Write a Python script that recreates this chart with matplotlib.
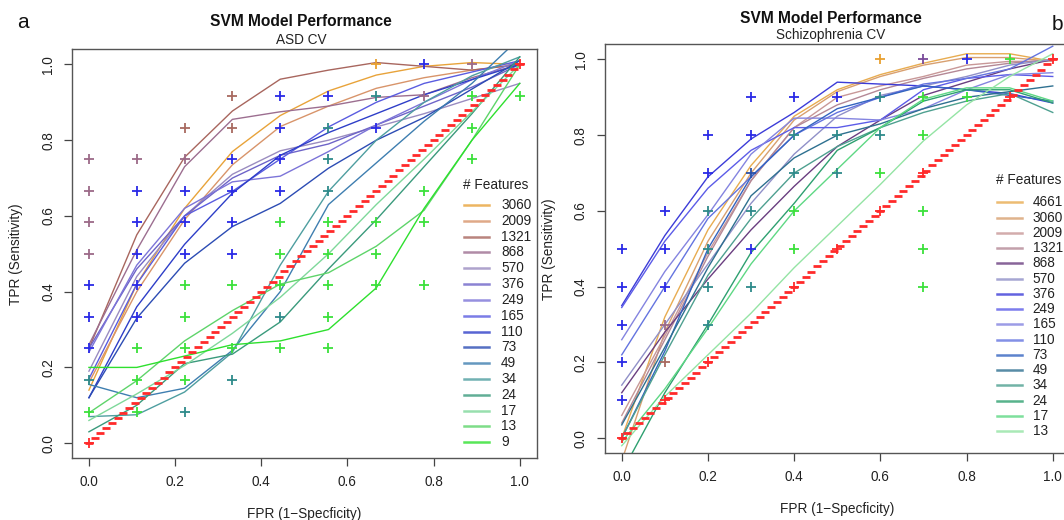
import numpy as np
import matplotlib
matplotlib.use("Agg")
import matplotlib.pyplot as plt
from matplotlib.lines import Line2D

plt.rcParams['font.family'] = ['Liberation Sans', 'DejaVu Sans']

W, H = 1064, 520

# ---------------- ASD panel data ----------------
asd_fpr = [0.0, 0.111, 0.222, 0.333, 0.444, 0.556, 0.667, 0.778, 0.889, 1.0]
asd_features = [3060, 2009, 1321, 868, 570, 376, 249, 165, 110, 73, 49, 34, 24, 17, 13, 9]
asd_3060 = [0.14, 0.42, 0.62, 0.77, 0.865, 0.93, 0.972, 0.995, 1.005, 1.0]
asd_2009 = [0.16, 0.40, 0.59, 0.735, 0.836, 0.89, 0.937, 0.965, 0.985, 1.0]
asd_1321 = [0.25, 0.55, 0.755, 0.877, 0.961, 0.985, 1.005, 0.995, 0.985, 1.0]
asd_868 = [0.26, 0.51, 0.73, 0.855, 0.875, 0.89, 0.913, 0.92, 0.965, 1.0]
asd_570 = [0.19, 0.44, 0.60, 0.71, 0.772, 0.80, 0.835, 0.87, 0.91, 0.95]
asd_376 = [0.25, 0.46, 0.60, 0.70, 0.76, 0.79, 0.84, 0.89, 0.94, 1.0]
asd_249 = [0.24, 0.47, 0.62, 0.69, 0.705, 0.77, 0.84, 0.90, 0.96, 1.01]
asd_165 = [0.17, 0.42, 0.60, 0.665, 0.75, 0.835, 0.90, 0.95, 0.98, 1.01]
asd_110 = [0.12, 0.36, 0.525, 0.66, 0.76, 0.82, 0.87, 0.92, 0.96, 1.0]
asd_73 = [0.12, 0.33, 0.475, 0.572, 0.633, 0.726, 0.80, 0.86, 0.935, 1.01]
asd_49 = [0.155, 0.12, 0.145, 0.245, 0.40, 0.63, 0.74, 0.85, 0.95, 1.07]
asd_34 = [0.07, 0.075, 0.135, 0.24, 0.47, 0.665, 0.80, 0.90, 0.97, 1.02]
asd_24 = [0.03, 0.10, 0.21, 0.235, 0.32, 0.46, 0.59, 0.73, 0.87, 1.02]
asd_17 = [0.06, 0.13, 0.205, 0.29, 0.385, 0.50, 0.63, 0.75, 0.875, 1.0]
asd_13 = [0.08, 0.165, 0.27, 0.35, 0.42, 0.45, 0.52, 0.615, 0.80, 1.0]
asd_9 = [0.20, 0.20, 0.23, 0.26, 0.27, 0.30, 0.41, 0.62, 0.80, 0.95]
asd_series = [asd_3060, asd_2009, asd_1321, asd_868, asd_570, asd_376, asd_249, asd_165,
              asd_110, asd_73, asd_49, asd_34, asd_24, asd_17, asd_13, asd_9]
asd_colors = ['#E8A33A', '#D8946A', '#A8665E', '#9C6E90', '#9A8CC0', '#6E64C8', '#7C74D8', '#5A5CE0',
              '#2E3EC8', '#2C4CB4', '#3E7EB0', '#4E9EA0', '#3A9A7C', '#7ED89A', '#5ED46A', '#2EE02E']

# observed operating points (+)
asd_pt_x = ([0.0] * 10 + [0.111] * 9 + [0.222] * 10 + [0.333] * 9 + [0.444] * 9 +
            [0.556] * 9 + [0.667] * 6 + [0.778] * 5 + [0.889] * 4 + [1.0] * 2)
asd_pt_y = [0.75, 0.667, 0.583, 0.5, 0.417, 0.333, 0.25, 0.167, 0.083, 0.0,
            0.75, 0.667, 0.583, 0.5, 0.417, 0.333, 0.25, 0.167, 0.083,
            0.833, 0.75, 0.667, 0.583, 0.5, 0.417, 0.333, 0.25, 0.167, 0.083,
            0.917, 0.833, 0.75, 0.667, 0.583, 0.5, 0.417, 0.25, 0.167,
            0.917, 0.833, 0.75, 0.667, 0.583, 0.5, 0.417, 0.333, 0.25,
            0.917, 0.833, 0.75, 0.667, 0.583, 0.5, 0.417, 0.333, 0.25,
            1.0, 0.917, 0.833, 0.583, 0.5, 0.417,
            1.0, 0.917, 0.667, 0.583, 0.417,
            1.0, 0.917, 0.833, 0.75,
            1.0, 0.917]
asd_pt_c = list('MMMMBBBTGR') + list('MBBBBBGGG') + list('NMBBBGGGGT') + list('NNBBBBGGT') + \
    list('BBBBGGGTG') + list('BTTTGGGGG') + list('OTBGGG') + list('BMGGG') + list('MGGG') + list('RG')

# ---------------- Schizophrenia panel data ----------------
scz_fpr = [0.0, 0.1, 0.2, 0.3, 0.4, 0.5, 0.6, 0.7, 0.8, 0.9, 1.0]
scz_features = [4661, 3060, 2009, 1321, 868, 570, 376, 249, 165, 110, 73, 49, 34, 24, 17, 13]
scz_4661 = [0.0, 0.32, 0.55, 0.72, 0.85, 0.92, 0.96, 0.99, 1.015, 1.015, 0.995]
scz_3060 = [-0.06, 0.28, 0.52, 0.70, 0.84, 0.915, 0.955, 0.985, 1.005, 1.005, 0.995]
scz_2009 = [0.06, 0.27, 0.49, 0.68, 0.82, 0.90, 0.93, 0.955, 0.985, 0.995, 0.995]
scz_1321 = [0.04, 0.26, 0.48, 0.68, 0.82, 0.88, 0.92, 0.95, 0.975, 0.99, 1.0]
scz_868 = [0.12, 0.28, 0.42, 0.55, 0.665, 0.77, 0.84, 0.905, 0.94, 0.975, 1.0]
scz_570 = [0.14, 0.30, 0.46, 0.62, 0.75, 0.85, 0.905, 0.93, 0.955, 0.985, 1.0]
scz_376 = [0.35, 0.535, 0.69, 0.79, 0.86, 0.94, 0.935, 0.93, 0.92, 0.91, 0.885]
scz_249 = [0.345, 0.52, 0.66, 0.76, 0.82, 0.82, 0.84, 0.92, 0.95, 0.96, 0.955]
scz_165 = [0.26, 0.44, 0.59, 0.75, 0.845, 0.845, 0.84, 0.87, 0.92, 0.96, 0.965]
scz_110 = [0.22, 0.40, 0.58, 0.69, 0.80, 0.86, 0.90, 0.935, 0.95, 0.975, 1.035]
scz_73 = [0.0, 0.23, 0.50, 0.69, 0.80, 0.87, 0.90, 0.93, 0.92, 0.905, 0.89]
scz_49 = [0.035, 0.24, 0.45, 0.64, 0.74, 0.80, 0.83, 0.87, 0.90, 0.915, 0.93]
scz_34 = [0.0, 0.22, 0.43, 0.58, 0.70, 0.77, 0.82, 0.86, 0.89, 0.91, 0.86]
scz_24 = [-0.09, 0.12, 0.30, 0.49, 0.62, 0.76, 0.82, 0.89, 0.92, 0.92, 0.885]
scz_17 = [-0.01, 0.13, 0.29, 0.46, 0.60, 0.71, 0.82, 0.895, 0.925, 0.925, 0.89]
scz_13 = [-0.02, 0.11, 0.22, 0.33, 0.45, 0.56, 0.67, 0.785, 0.88, 0.955, 1.015]
scz_series = [scz_4661, scz_3060, scz_2009, scz_1321, scz_868, scz_570, scz_376, scz_249,
              scz_165, scz_110, scz_73, scz_49, scz_34, scz_24, scz_17, scz_13]
scz_colors = ['#E8AC50', '#D8A070', '#C89898', '#B48896', '#6A3E80', '#9090C8', '#3C3CD8', '#5C5CE8',
              '#8484E0', '#6474E0', '#3464C0', '#2E7090', '#4EA090', '#2EA070', '#5ED884', '#94E4A4']

scz_pt_x = ([0.0] * 6 + [0.1] * 6 + [0.2] * 7 + [0.3] * 6 + [0.4] * 6 + [0.5] * 4 +
            [0.6] * 5 + [0.7] * 7 + [0.8] * 2 + [0.9] * 2 + [1.0] * 1)
scz_pt_y = [0.5, 0.4, 0.3, 0.2, 0.1, 0.0,
            0.6, 0.5, 0.4, 0.3, 0.2, 0.1,
            0.8, 0.7, 0.6, 0.5, 0.4, 0.3, 0.2,
            0.9, 0.8, 0.7, 0.6, 0.5, 0.4,
            0.9, 0.8, 0.7, 0.6, 0.5, 0.4,
            0.9, 0.8, 0.7, 0.5,
            1.0, 0.9, 0.8, 0.7, 0.6,
            1.0, 0.9, 0.8, 0.7, 0.6, 0.5, 0.4,
            1.0, 0.9,
            1.0, 0.9,
            1.0]
scz_pt_c = list('BBBBBR') + list('BBBMNR') + list('BBTTTTR') + list('BBDTBT') + list('BTTGGR') + \
    list('BTTR') + list('OTTGR') + list('PGGRGGG') + list('BG') + list('GR') + list('R')

pt_palette = {'M': '#9C6A88', 'N': '#A86A60', 'B': '#2A2AE6', 'D': '#2A50A8', 'T': '#2E8A8A',
              'G': '#3CE03C', 'O': '#E8A030', 'R': '#FF2A2A', 'P': '#7A4A9A'}

# chance (random classifier) diagonal
chance = np.linspace(0.0, 1.0, 76)

fig = plt.figure(figsize=(W / 100, H / 100), dpi=100)


def px_rect(l, t, r, b):
    return [l / W, 1 - b / H, (r - l) / W, (b - t) / H]


def style_axes(ax, axw_px):
    ax.set_xlim(-0.04, 1.04)
    ax.set_ylim(-0.04, 1.04)
    ticks = [0.0, 0.2, 0.4, 0.6, 0.8, 1.0]
    ax.set_xticks(ticks)
    ax.set_yticks(ticks)
    ax.set_xticklabels([f"{t:.1f}" for t in ticks])
    ax.set_yticklabels([f"{t:.1f}" for t in ticks], rotation=90, va='center')
    ax.tick_params(direction='out', length=5.5, width=0.9, color='#444444',
                   labelsize=9.8, labelcolor='#222222', pad=6.5)
    for s in ax.spines.values():
        s.set_color('#555555')
        s.set_linewidth(1.0)
    ax.set_xlabel('FPR (1\u2212Specficity)', fontsize=9.8, color='#222222')
    ax.set_ylabel('TPR (Sensitivity)', fontsize=9.8, color='#222222')
    ax.xaxis.set_label_coords(0.5, -56 / 409)
    ax.xaxis.label.set_va('center')
    ax.yaxis.set_label_coords(-56 / axw_px, 0.5)
    ax.yaxis.label.set_va('center')


def draw_panel(ax, fpr, series, colors, ptx, pty, ptc):
    for ys, c in zip(series, colors):
        ax.plot(fpr, ys, color=c, lw=1.0, zorder=2)
    ax.plot(chance, chance, linestyle='none', marker='_', markersize=5.5,
            markeredgewidth=2.0, color='#FF2A2A', zorder=3)
    for x, y, c in zip(ptx, pty, ptc):
        ax.plot(x, y, linestyle='none', marker='+', markersize=6.5,
                markeredgewidth=1.3, color=pt_palette[c], zorder=4)


def draw_legend(features, colors, x_line0, x_line1, x_text, y_title, y0, dy):
    fig.text(x_line0 / W - 0.001, 1 - y_title / H, '# Features', fontsize=9.8,
             color='#222222', ha='left', va='center')
    for i, (f, c) in enumerate(zip(features, colors)):
        y = y0 + i * dy
        fig.add_artist(Line2D([x_line0 / W, x_line1 / W], [1 - y / H, 1 - y / H],
                              transform=fig.transFigure, color=c, lw=1.8, alpha=0.8))
        fig.text(x_text / W, 1 - y / H, str(f), fontsize=9.8, color='#222222',
                 ha='left', va='center')


# ---- left panel ----
axL = fig.add_axes(px_rect(71.7, 49.3, 537.0, 458.3))
draw_panel(axL, asd_fpr, asd_series, asd_colors, asd_pt_x, asd_pt_y, asd_pt_c)
style_axes(axL, 465.3)
draw_legend(asd_features, asd_colors, 464.3, 489.3, 501, 185, 205, 15.82)
fig.text(301 / W, 1 - 22 / H, 'SVM Model Performance', fontsize=11.2, fontweight='bold',
         ha='center', va='center', color='#111111')
fig.text(301 / W, 1 - 40 / H, 'ASD CV', fontsize=9.8, ha='center', va='center', color='#222222')
fig.text(23 / W, 1 - 22 / H, 'a', fontsize=15, ha='center', va='center', color='#111111')

# ---- right panel ----
axR = fig.add_axes(px_rect(604.5, 44.3, 1070.0, 453.3))
draw_panel(axR, scz_fpr, scz_series, scz_colors, scz_pt_x, scz_pt_y, scz_pt_c)
style_axes(axR, 465.5)
draw_legend(scz_features, scz_colors, 996.7, 1021.7, 1032.7, 180, 202.3, 15.25)
fig.text(831 / W, 1 - 18.5 / H, 'SVM Model Performance', fontsize=11.2, fontweight='bold',
         ha='center', va='center', color='#111111')
fig.text(831 / W, 1 - 35.5 / H, 'Schizophrenia CV', fontsize=9.8, ha='center', va='center',
         color='#222222')
fig.text(1057 / W, 1 - 25 / H, 'b', fontsize=15, ha='center', va='center', color='#111111')

fig.savefig('out.png', dpi=100)
